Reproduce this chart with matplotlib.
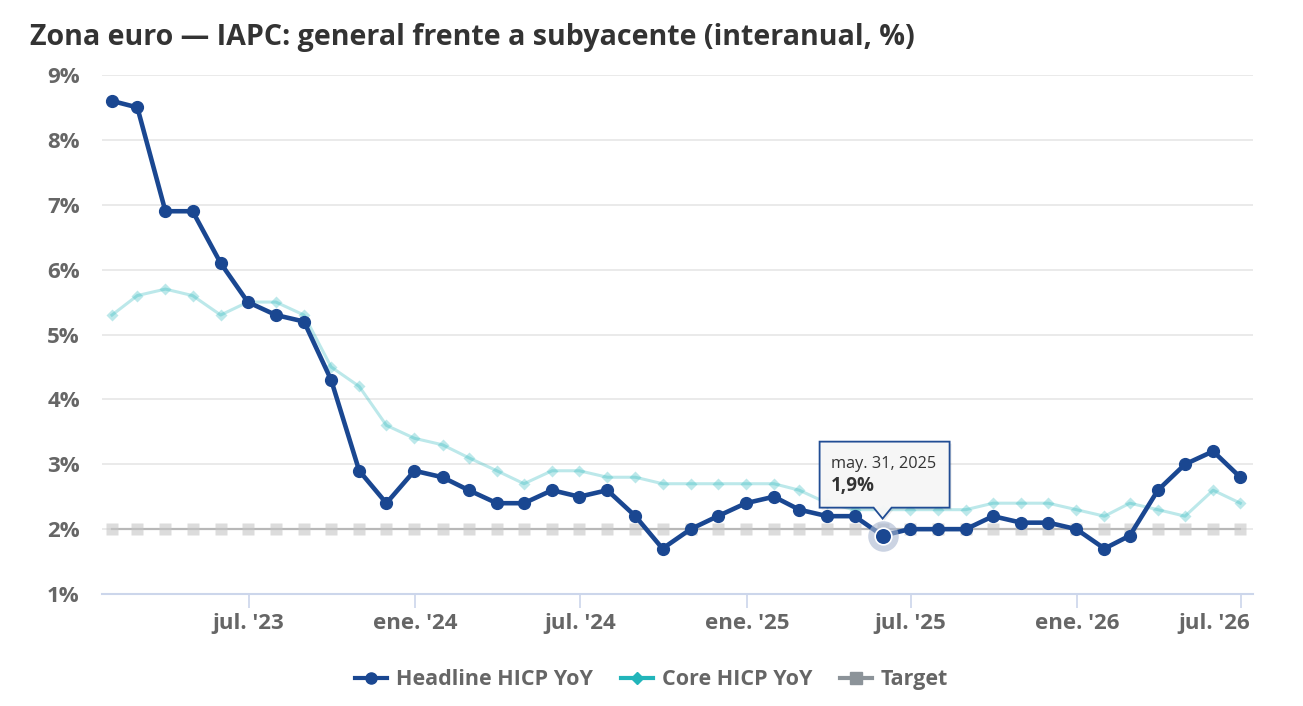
import matplotlib.pyplot as plt
import matplotlib.dates as mdates
from matplotlib.lines import Line2D
from matplotlib.patches import Polygon
import matplotlib.transforms as mtransforms
import pandas as pd

# monthly readings, month-end dates
fechas = pd.date_range('2023-01-31', periods=42, freq='ME')
headline = [8.6, 8.5, 6.9, 6.9, 6.1, 5.5, 5.3, 5.2, 4.3, 2.9, 2.4, 2.9,
            2.8, 2.6, 2.4, 2.4, 2.6, 2.5, 2.6, 2.2, 1.7, 2.0, 2.2, 2.4,
            2.5, 2.3, 2.2, 2.2, 1.9, 2.0, 2.0, 2.0, 2.2, 2.1, 2.1, 2.0,
            1.7, 1.9, 2.6, 3.0, 3.2, 2.8]
core = [5.3, 5.6, 5.7, 5.6, 5.3, 5.5, 5.5, 5.3, 4.5, 4.2, 3.6, 3.4,
        3.3, 3.1, 2.9, 2.7, 2.9, 2.9, 2.8, 2.8, 2.7, 2.7, 2.7, 2.7,
        2.7, 2.6, 2.4, 2.3, 2.3, 2.3, 2.3, 2.3, 2.4, 2.4, 2.4, 2.3,
        2.2, 2.4, 2.3, 2.2, 2.6, 2.4]
target = [2.0] * len(fechas)

tick_dates = pd.to_datetime(['2023-07-01', '2024-01-01', '2024-07-01', '2025-01-01',
                             '2025-07-01', '2026-01-01', '2026-07-01'])
tick_labels = ["jul. '23", "ene. '24", "jul. '24", "ene. '25", "jul. '25", "ene. '26", "jul. '26"]
y_ticks = [1, 2, 3, 4, 5, 6, 7, 8, 9]

hover_idx = 28
hover_date = 'may. 31, 2025'
hover_value = '1,9%'

c_head = '#1a4791'
c_core = '#22b5ba'
c_target = '#8c9399'

plt.rcParams['font.family'] = ['Open Sans', 'DejaVu Sans']

fig = plt.figure(figsize=(13.03, 7.06), dpi=100)
ax = fig.add_axes([0.0783, 0.1586, 0.8833, 0.7352])

ax.plot(fechas, target, color='#b8b8b8', lw=1.6, zorder=2)
ax.plot(fechas, target, ls='none', marker='s', ms=9, color='#c6c6c6', alpha=0.6, mec='none', zorder=2)
ax.plot(fechas, core, color=c_core, lw=2.2, alpha=0.3, marker='D', ms=6, mec='none', zorder=3)
ax.plot(fechas, headline, color=c_head, lw=3.3, marker='o', ms=8.5, zorder=4)

# hovered point
hx, hy = fechas[hover_idx], headline[hover_idx]
ax.plot([hx], [hy], marker='o', ms=22, color='#a9b7d0', alpha=0.6, mec='none', zorder=5)
ax.plot([hx], [hy], marker='o', ms=12, color=c_head, mec='white', mew=1.2, zorder=6)

ax.set_ylim(1, 9)
ax.set_xlim(pd.Timestamp('2023-01-20'), pd.Timestamp('2026-07-14'))
ax.set_yticks(y_ticks)
ax.set_yticklabels([f'{v}%' for v in y_ticks])
ax.set_xticks(tick_dates)
ax.set_xticklabels(tick_labels)

ax.grid(axis='y', color='#e6e6e6', lw=1.2)
ax.set_axisbelow(True)
for s in ['top', 'right', 'left']:
    ax.spines[s].set_visible(False)
ax.spines['bottom'].set_color('#ccd6eb')
ax.spines['bottom'].set_linewidth(1.5)
ax.tick_params(axis='y', length=0, pad=16, labelsize=16, labelcolor='#666666')
ax.tick_params(axis='x', length=10, width=1.2, color='#ccd6eb', pad=4, labelsize=16, labelcolor='#666666')
for lab in ax.get_xticklabels() + ax.get_yticklabels():
    lab.set_fontweight('bold')
# last label kept inside the plot, like the original
last = ax.get_xticklabels()[-1]
last.set_transform(last.get_transform() + mtransforms.ScaledTranslation(-0.27, 0, fig.dpi_scale_trans))

fig.text(0.023, 0.947, 'Zona euro \u2014 IAPC: general frente a subyacente (interanual, %)',
         fontsize=20.6, fontweight='bold', color='#333333', va='center')

# tooltip callout, drawn in pixel space
fig.canvas.draw()
px, py = ax.transData.transform((mdates.date2num(hx), hy))
left, right, bot, top = px - 63, px + 67, py + 28, py + 94
pts = [(left, bot), (px - 9, bot), (px, py + 17), (px + 9, bot), (right, bot), (right, top), (left, top)]
shadow = [(x + 2, y - 2) for x, y in pts]
fig.patches.append(Polygon(shadow, closed=True, transform=None, fc='#000000', ec='none',
                           alpha=0.08, zorder=9, figure=fig))
fig.patches.append(Polygon(pts, closed=True, transform=None, fc='#f7f7f7', ec=c_head,
                           lw=1.3, alpha=0.97, zorder=10, figure=fig))
fig.text((left + 11) / 1303, (py + 72) / 706, hover_date, fontsize=11.7, color='#333333',
         va='center', zorder=11)
fig.text((left + 11) / 1303, (py + 50) / 706, hover_value, fontsize=13.5, fontweight='bold',
         color='#333333', va='center', zorder=11)

handles = [Line2D([], [], color=c_head, lw=3, marker='o', ms=8),
           Line2D([], [], color=c_core, lw=3, marker='D', ms=6),
           Line2D([], [], color=c_target, lw=3, marker='s', ms=8)]
leg = fig.legend(handles, ['Headline HICP YoY', 'Core HICP YoY', 'Target'], loc='center',
                 bbox_to_anchor=(0.5, 0.037), ncol=3, frameon=False, handlelength=1.5,
                 handletextpad=0.4, columnspacing=1.3, prop={'size': 15.5, 'weight': 'bold'})
for t in leg.get_texts():
    t.set_color('#666666')

fig.savefig('out.png', dpi=100)
